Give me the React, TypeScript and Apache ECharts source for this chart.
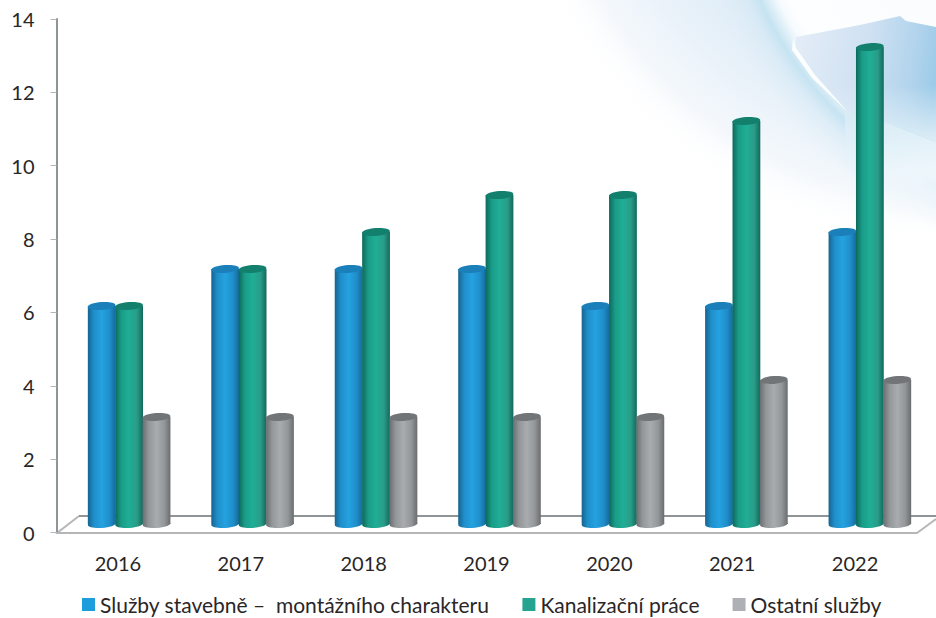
import React, { useEffect, useRef } from "react";
import * as echarts from "echarts";

const years = ["2016", "2017", "2018", "2019", "2020", "2021", "2022"];
const stavebni = [6, 7, 7, 7, 6, 6, 8];
const kanalizace = [6, 7, 8, 9, 9, 11, 13];
const ostatni = [3, 3, 3, 3, 3, 4, 4];
const names = ["Služby stavebně –  montážního charakteru", "Kanalizační práce", "Ostatní služby"];
const legendColors = ["#1c9ddc", "#26a48f", "#aeb0b5"];
const bodyStops = [
  ["#16648f", "#1f8fcb", "#25a2e0", "#1f8ecb", "#166a9c"],
  ["#0d695b", "#1a9c88", "#1fae96", "#2a9c88", "#116a5d"],
  ["#6b6e70", "#94979a", "#a9acae", "#94979a", "#6a6d6e"],
];
const topColors = ["#1b80b9", "#13806e", "#727577"];
const FONT = "Lato";
const TEXT = "#2a2627";

function cylinder(params: any, api: any) {
  const s = params.seriesIndex;
  const cat = api.value(0);
  const v = api.value(1);
  const at = api.coord([cat, v]);
  const zero = api.coord([cat, 0]);
  const w = 27.8;
  const cx = at[0] + 11.2 + 0.6 * cat + (s - 1) * 27.4;
  const top = at[1] - 4.5 - 0.32 * v;
  const base = zero[1] - 8.4;
  const st = bodyStops[s];
  const grad = () =>
    new echarts.graphic.LinearGradient(0, 0, 1, 0, [
      { offset: 0, color: st[0] },
      { offset: 0.22, color: st[1] },
      { offset: 0.5, color: st[2] },
      { offset: 0.78, color: st[3] },
      { offset: 1, color: st[4] },
    ]);
  return {
    type: "group",
    children: [
      {
        type: "ellipse",
        x: cx,
        y: base,
        rotation: 0.06,
        shape: { cx: 0, cy: 0, rx: w / 2, ry: 3.8 },
        style: { fill: grad() },
      },
      {
        type: "rect",
        shape: { x: cx - w / 2, y: top, width: w, height: base - top },
        style: { fill: grad() },
      },
      {
        type: "ellipse",
        x: cx,
        y: top,
        rotation: 0.07,
        shape: { cx: 0, cy: 0, rx: w / 2, ry: 3.9 },
        style: { fill: topColors[s] },
      },
    ],
  };
}

export default function App() {
  const ref = useRef<HTMLDivElement>(null);
  useEffect(() => {
    document.body.style.margin = "0";
    const chart = echarts.init(ref.current!, null, { renderer: "svg" });
    const toData = (a: number[]) => a.map((v, i) => [i, v]);
    const glow = new echarts.graphic.RadialGradient(
      950,
      -200,
      445,
      [
        { offset: 0, color: "#d8e9f5" },
        { offset: 0.6, color: "#dcebf6" },
        { offset: 0.72, color: "#e4eff8" },
        { offset: 0.9, color: "#f4f8fc" },
        { offset: 1, color: "rgba(255,255,255,0)" },
      ],
      true
    );
    const band = new echarts.graphic.RadialGradient(
      1100,
      -150,
      440,
      [
        { offset: 0, color: "rgba(246,250,253,0.9)" },
        { offset: 0.78, color: "rgba(255,255,255,0.95)" },
        { offset: 0.805, color: "rgba(250,253,254,0.9)" },
        { offset: 0.845, color: "rgba(195,226,241,0.9)" },
        { offset: 0.875, color: "rgba(210,232,245,0.5)" },
        { offset: 0.94, color: "rgba(225,238,248,0)" },
        { offset: 1, color: "rgba(225,238,248,0)" },
      ],
      true
    );
    const patchFill = new echarts.graphic.LinearGradient(
      796,
      50,
      936,
      70,
      [
        { offset: 0, color: "#e3ecf7" },
        { offset: 0.5, color: "#cfe1f2" },
        { offset: 0.85, color: "#b0d3ec" },
        { offset: 1, color: "#9dcbe8" },
      ],
      true
    );
    const patchFade = new echarts.graphic.LinearGradient(
      880,
      85,
      880,
      142,
      [
        { offset: 0, color: "rgba(228,241,249,0)" },
        { offset: 1, color: "rgba(222,238,247,1)" },
      ],
      true
    );
    const lowerFade = new echarts.graphic.LinearGradient(
      890,
      118,
      900,
      240,
      [
        { offset: 0, color: "#d9ecf6" },
        { offset: 0.45, color: "#edf6fb" },
        { offset: 1, color: "rgba(255,255,255,0)" },
      ],
      true
    );
    chart.setOption({
      animation: false,
      backgroundColor: "#ffffff",
      textStyle: { fontFamily: FONT },
      grid: { left: 56.5, right: 19.5, top: 19, bottom: 85.5 },
      legend: {
        left: 82,
        top: 594,
        itemWidth: 13,
        itemHeight: 13,
        itemGap: 33,
        padding: 0,
        icon: "rect",
        textStyle: { fontFamily: FONT, fontSize: 21, color: TEXT },
        data: names.map((name, i) => ({
          name,
          itemStyle: { color: legendColors[i] },
        })),
      },
      xAxis: {
        type: "category",
        data: years,
        axisLine: { lineStyle: { color: "#b4b6b7", width: 2 } },
        axisTick: { length: 6, lineStyle: { color: "#b4b6b7", width: 1 } },
        axisLabel: { fontFamily: FONT, fontSize: 20, color: TEXT, margin: 20 },
      },
      yAxis: {
        type: "value",
        min: 0,
        max: 14,
        interval: 2,
        splitLine: { show: false },
        axisLine: { show: true, lineStyle: { color: "#8f9496", width: 2 } },
        axisTick: { show: true, length: 6, lineStyle: { color: "#b4b6b7", width: 1 } },
        axisLabel: {
          fontFamily: FONT,
          fontSize: 20,
          color: TEXT,
          margin: 22,
          padding: [4, 0, 0, 0],
        },
      },
      graphic: {
        elements: [
          {
            type: "rect",
            silent: true,
            z: -20,
            shape: { x: 400, y: 0, width: 536, height: 300 },
            style: { fill: glow },
          },
          {
            type: "rect",
            silent: true,
            z: -19,
            shape: { x: 600, y: 0, width: 336, height: 300 },
            style: { fill: band },
          },
          {
            type: "polygon",
            silent: true,
            z: -18.5,
            shape: {
              points: [
                [845, 108],
                [890, 120],
                [936, 138],
                [936, 245],
                [890, 215],
                [845, 165],
              ],
            },
            style: { fill: lowerFade },
          },
          {
            type: "polygon",
            silent: true,
            z: -18,
            shape: {
              points: [
                [796, 37],
                [860, 25],
                [900, 16],
                [906, 21],
                [936, 27],
                [936, 142],
                [890, 124],
                [848, 112],
                [815, 75],
                [796, 48],
              ],
            },
            style: { fill: patchFill },
          },
          {
            type: "polygon",
            silent: true,
            z: -17,
            shape: {
              points: [
                [936, 85],
                [936, 142],
                [890, 124],
                [848, 112],
                [824, 85],
              ],
            },
            style: { fill: patchFade },
          },
          {
            type: "polygon",
            silent: true,
            z: -16,
            shape: {
              points: [
                [793, 38],
                [796, 48],
                [815, 75],
                [848, 112],
                [812, 78],
                [792, 50],
              ],
            },
            style: { fill: "rgba(255,255,255,0.9)" },
          },
          {
            type: "polyline",
            silent: true,
            z: -5,
            shape: {
              points: [
                [57, 533],
                [79, 516],
              ],
            },
            style: { stroke: "#b4b6b7", lineWidth: 2, fill: "none" },
          },
          {
            type: "polyline",
            silent: true,
            z: -5,
            shape: {
              points: [
                [79, 516],
                [936, 516],
              ],
            },
            style: { stroke: "#8f9496", lineWidth: 2, fill: "none" },
          },
          {
            type: "polyline",
            silent: true,
            z: -5,
            shape: {
              points: [
                [917, 533],
                [936, 519],
              ],
            },
            style: { stroke: "#b4b6b7", lineWidth: 2, fill: "none" },
          },
        ],
      },
      series: [stavebni, kanalizace, ostatni].map((a, i) => ({
        type: "custom",
        name: names[i],
        renderItem: cylinder,
        encode: { x: 0, y: 1 },
        itemStyle: { color: legendColors[i] },
        data: toData(a),
      })),
    });
    return () => chart.dispose();
  }, []);
  return <div ref={ref} style={{ width: 936, height: 618 }} />;
}
